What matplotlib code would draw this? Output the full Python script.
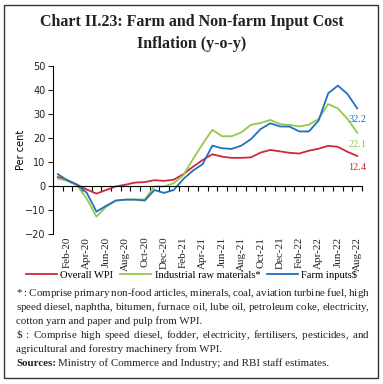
import numpy as np
import matplotlib
matplotlib.use('Agg')
import matplotlib.pyplot as plt
import matplotlib.transforms as mtransforms
from matplotlib.patches import Rectangle

matplotlib.rcParams.update({
    'font.family': 'serif',
    'font.serif': ['Liberation Serif', 'DejaVu Serif'],
    'font.size': 7,
})

# monthly, Jan-20 .. Aug-22
tick_labels = ['Feb-20', 'Apr-20', 'Jun-20', 'Aug-20', 'Oct-20', 'Dec-20',
               'Feb-21', 'Apr-21', 'Jun-21', 'Aug-21', 'Oct-21', 'Dec-21',
               'Feb-22', 'Apr-22', 'Jun-22', 'Aug-22']
wpi = [3.6, 2.3, 0.4, -1.6, -3.3, -1.8, -0.3, 0.4, 1.3, 1.5, 2.3, 2.0,
       2.5, 4.8, 7.9, 10.7, 13.1, 12.1, 11.6, 11.6, 11.8, 13.8, 14.9, 14.3,
       13.7, 13.4, 14.6, 15.4, 16.6, 16.2, 14.1, 12.4]
raw = [3.0, 2.0, 0.1, -5.5, -12.9, -8.8, -6.2, -5.8, -5.8, -5.7, -0.3, -0.3,
       1.0, 4.4, 11.1, 17.4, 23.3, 20.6, 20.6, 22.2, 25.4, 26.1, 27.4, 25.7,
       25.3, 24.7, 25.4, 27.8, 34.0, 32.2, 27.8, 22.1]
farm = [4.8, 2.2, 0.4, -3.0, -10.8, -8.4, -6.2, -5.8, -5.8, -6.2, -1.8, -3.0,
        -1.8, 2.8, 6.3, 9.0, 16.7, 15.6, 15.3, 16.7, 19.4, 23.6, 26.0, 24.7,
        24.6, 22.6, 22.6, 27.1, 38.5, 41.7, 38.2, 32.2]

red = '#cc2a36'
green = '#94c849'
blue = '#2170c0'

W, H = 383, 384
fig = plt.figure(figsize=(W / 100, H / 100), dpi=100)
fig.add_artist(Rectangle((4 / W, 1 - 378 / H), 374 / W, 373 / H, transform=fig.transFigure,
                         fill=False, lw=1.0, ec='#333333'))

fig.text(0.5, 1 - 22 / H, 'Chart II.23: Farm and Non-farm Input Cost', ha='center', va='center',
         fontsize=11.5, fontweight='bold', color='#222222')
fig.text(0.5, 1 - 44 / H, 'Inflation (y-o-y)', ha='center', va='center',
         fontsize=11.5, fontweight='bold', color='#222222')

ax = fig.add_axes([53 / W, 1 - 233.7 / H, (362 - 53) / W, (233.7 - 65.7) / H])
x = np.arange(len(wpi))
ax.plot(x, wpi, c=red, lw=1.3, label='Overall WPI')
ax.plot(x, raw, c=green, lw=1.3, label='Industrial raw materials*')
ax.plot(x, farm, c=blue, lw=1.3, label='Farm inputs$')

ax.set_xlim(-0.5, len(wpi) - 0.5)
ax.set_ylim(-20, 50)
ax.set_yticks(np.arange(-20, 51, 10))
ax.tick_params(axis='y', direction='out', length=3.5, width=0.8, pad=2, labelsize=7,
               labelfontfamily='DejaVu Sans', colors='#222222')
ax.set_ylabel('Per cent', family='DejaVu Sans', fontsize=7, labelpad=-1)

for s in ['top', 'right']:
    ax.spines[s].set_visible(False)
ax.spines['left'].set_linewidth(0.8)
ax.spines['bottom'].set_position(('data', 0))
ax.spines['bottom'].set_linewidth(0.8)
ax.set_xticks(np.arange(-0.5, len(wpi), 1.0))
ax.tick_params(axis='x', direction='out', length=3.5, width=0.8, labelbottom=False)

trans = mtransforms.blended_transform_factory(ax.transData, ax.transAxes)
for i, lab in enumerate(tick_labels):
    ax.text(2 * i + 1, -0.018, lab, transform=trans, rotation=90, ha='center', va='top',
            fontsize=8, color='#222222')

for vals, col in [(wpi, red), (raw, green), (farm, blue)]:
    ax.annotate(f'{vals[-1]:.1f}', (x[-1], vals[-1]), xytext=(0, -5), textcoords='offset points',
                ha='center', va='top', color=col, fontsize=7.5)

fig.legend(loc='center', bbox_to_anchor=(0.5, 1 - 275 / H), ncol=3, frameon=False,
           fontsize=7.6, handlelength=3.0, handletextpad=0.3, columnspacing=0.6)

# footnotes (justified lines are one text each, word gaps set with \hspace)
notes = [
    ('* : Comprise primary non\u2010food articles, minerals, coal, aviation turbine fuel, high', True),
    ('speed diesel, naphtha, bitumen, furnace oil, lube oil, petroleum coke, electricity,', True),
    ('cotton yarn and paper and pulp from WPI.', False),
    ('\\$ : Comprise high speed diesel, fodder, electricity, fertilisers, pesticides, and', True),
    ('agricultural and forestry machinery from WPI.', False),
]
x0, x1 = 16 / W, 370 / W
fs = 7.9
renderer = fig.canvas.get_renderer()


def spaced(words, g):
    return ('$\\hspace{%.4f}$' % g).join(words)


for j, (line, just) in enumerate(notes):
    yy = 1 - (296 + 14 * j) / H
    t = fig.text(x0, yy, line, ha='left', va='baseline', fontsize=fs, color='#222222')
    if not just:
        continue
    words = line.split(' ')
    n = len(words) - 1
    t.set_text(spaced(words, 0))
    w0 = t.get_window_extent(renderer).width
    t.set_text(spaced(words, 1))
    unit = (t.get_window_extent(renderer).width - w0) / n
    g = ((x1 - x0) * W - w0) / n / unit
    t.set_text(spaced(words, g))

yy = 1 - (296 + 14 * 5) / H
t1 = fig.text(x0, yy, 'Sources:', ha='left', va='baseline', fontsize=fs, fontweight='bold', color='#222222')
w1 = t1.get_window_extent(renderer).width / W
fig.text(x0 + w1 + 2 / W, yy, 'Ministry of Commerce and Industry; and RBI staff estimates.',
         ha='left', va='baseline', fontsize=fs, color='#222222')

fig.savefig('out.png', dpi=100)
